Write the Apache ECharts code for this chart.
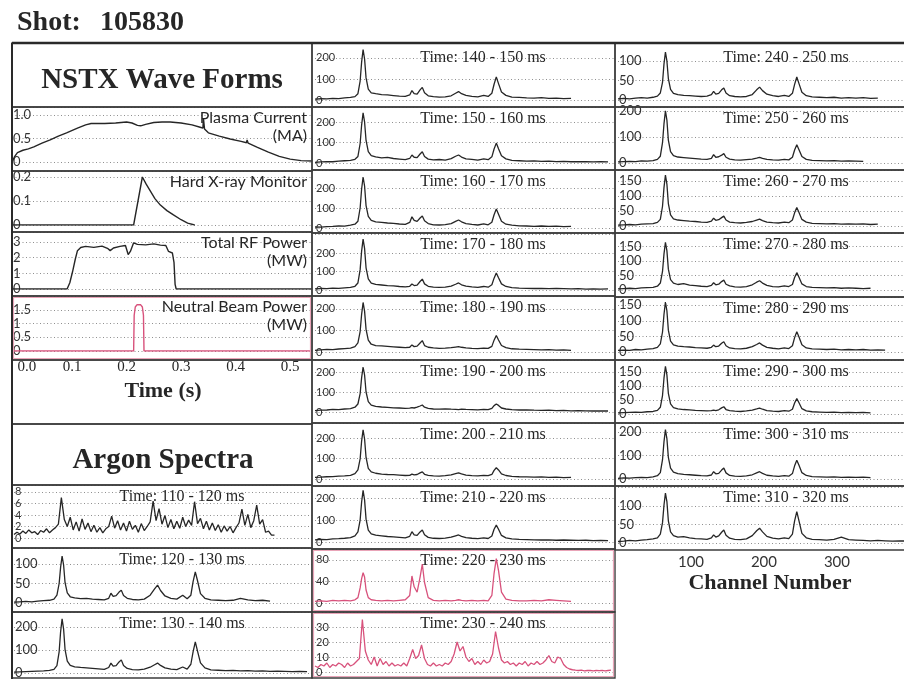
<!DOCTYPE html>
<html>
<head>
<meta charset="utf-8">
<script src="https://cdn.jsdelivr.net/npm/echarts@6/dist/echarts.min.js"></script>
<style>
html,body{margin:0;padding:0;background:#fff}
#chart{width:904px;height:681px}
</style>
</head>
<body>
<div id="chart"></div>
<script>
// ---- Channel grids for the argon spectra ----
const CH = [0,8,16,24,32,40,48,54,58,61,
  63,65,67,69,72,76,82,90,98,106,
  114,122,128,131,134,138,142,145,148,153,
  160,168,176,184,190,194,198,204,212,220,
  228,234,239,242,245,248,252,258,266,276,
  286,296,306,316,326,336,346,356,366,376,
  386,396];
const CH4 = [0,4,8,12,16,20,24,28,32,36,
  40,44,48,52,56,60,64,68,72,76,
  80,84,88,92,96,100,104,108,112,116,
  120,124,128,132,136,140,144,148,152,156,
  160,164,168,172,176,180,184,188,192,196,
  200,204,208,212,216,220,224,228,232,236,
  240,244,248,252,256,260,264,268,272,276,
  280,284,288,292,296,300,304,308,312,316,
  320,324,328,332,336,340,344,348,352,356,
  360,364,368,372,376,380,384,388,392,396,
  400];

// ---- NSTX waveforms: [time (s), value] ----
const plasmaCurrent = [[-0.009,0.02],[-0.005,0.12],[0,0.2],[0.01,0.25],[0.02,0.28],[0.03,0.32],[0.045,0.4],[0.06,0.47],[0.075,0.55],[0.09,0.62],[0.11,0.72],[0.125,0.79],[0.135,0.82],[0.16,0.82],[0.18,0.83],[0.2,0.85],[0.21,0.83],[0.22,0.78],[0.226,0.77],[0.235,0.8],[0.25,0.84],[0.265,0.85],[0.28,0.85],[0.3,0.83],[0.32,0.79],[0.335,0.74],[0.34,0.72],[0.341,0.93],[0.343,0.7],[0.35,0.62],[0.37,0.55],[0.39,0.49],[0.41,0.44],[0.42,0.41],[0.421,0.47],[0.423,0.4],[0.44,0.31],[0.46,0.21],[0.48,0.12],[0.5,0.06],[0.52,0.03],[0.54,0.02]];
const hardXray = [[-0.009,0],[0.213,0],[0.229,0.2],[0.236,0.17],[0.244,0.14],[0.252,0.11],[0.262,0.083],[0.274,0.06],[0.286,0.042],[0.3,0.022],[0.312,0.008],[0.325,0]];
const rfPower = [[-0.009,0],[0.091,0],[0.096,0.4],[0.101,1.1],[0.106,1.9],[0.11,2.45],[0.116,2.65],[0.125,2.72],[0.14,2.66],[0.155,2.74],[0.165,2.6],[0.17,2.45],[0.176,2.62],[0.188,2.72],[0.198,2.78],[0.203,2.2],[0.207,2.4],[0.213,2.95],[0.22,2.85],[0.235,2.82],[0.25,2.88],[0.262,2.8],[0.272,2.78],[0.277,2.4],[0.284,2.3],[0.287,1.7],[0.289,0.3],[0.291,0],[0.54,0]];
const nbPower = [[-0.009,0],[0.213,0],[0.214,1.3],[0.216,1.6],[0.219,1.68],[0.226,1.68],[0.229,1.6],[0.231,1.3],[0.232,0],[0.54,0]];
const timeTicks = [0, 0.1, 0.2, 0.3, 0.4, 0.5];

// ---- Argon spectra (counts per channel) ----
const spec110_120 = [0.6,1.0,0.7,1.2,0.8,1.4,0.9,1.1,0.6,1.3,
  1.0,1.6,0.9,1.4,1.8,2.4,7.0,3.2,2.0,3.6,
  1.4,2.8,1.2,3.3,1.5,2.6,1.1,2.2,1.0,1.8,
  0.9,1.6,2.0,3.8,1.7,3.0,1.4,2.6,1.2,2.9,
  1.5,2.2,1.0,2.5,1.3,2.0,2.8,6.4,3.0,5.1,
  2.4,3.9,1.8,3.2,1.6,2.9,1.7,3.6,2.0,3.1,
  2.2,6.3,2.5,3.4,1.6,2.9,1.4,2.6,1.3,2.3,
  1.0,2.1,1.2,2.0,0.9,1.8,2.6,5.0,2.2,4.1,
  1.8,3.0,5.7,2.4,3.2,1.0,1.2,0.5,0.5];
const spec120_130 = [2,3,4,3,5,6,7,10,20,50,
  92,120,98,52,26,16,13,11,12,10,
  9,8,12,25,17,19,28,33,19,12,
  9,8,10,20,36,46,32,18,12,10,
  20,11,20,55,80,57,24,12,8,7,
  6,7,12,8,6,7,5];
const spec130_140 = [4,5,6,7,8,9,11,16,32,92,
  180,235,192,102,52,33,27,24,22,20,
  18,16,24,43,30,32,48,57,33,20,
  15,14,17,25,36,43,33,22,17,15,
  26,17,38,92,135,95,44,22,14,12,
  10,11,9,10,8,9,7,8,7,6,
  7,6];
const spec140_150 = [4,6,5,8,7,10,12,16,30,90,
  180,240,195,105,52,34,30,26,24,21,
  18,17,24,45,30,28,48,60,34,20,
  16,14,15,20,32,40,30,22,17,15,
  22,17,32,75,110,78,38,22,14,12,
  10,9,11,8,9,7,8];
const spec150_160 = [3,5,7,6,9,11,13,18,32,95,
  185,245,200,110,55,36,30,25,27,22,
  19,16,22,39,28,26,44,55,32,19,
  15,17,14,21,33,39,29,20,18,14,
  20,16,30,68,97,70,35,20,13,11,
  9,10,8,9,7,8,6,7,6,5,
  6,5];
const spec160_170 = [5,4,7,8,10,9,14,19,34,100,
  195,255,210,112,58,38,31,28,25,23,
  20,18,28,56,38,33,50,60,36,22,
  16,15,17,22,33,40,31,22,18,15,
  21,16,29,66,95,69,34,19,14,11,
  10,8,10,8,9,7,8];
const spec170_180 = [6,8,7,10,9,12,14,20,38,110,
  210,275,225,120,60,37,30,27,24,22,
  19,17,20,32,24,26,46,59,33,20,
  16,14,16,21,31,38,28,21,17,14,
  19,15,28,64,92,66,33,19,13,10,
  9,8,9,7,8,7,6,7,5,6,
  5,6];
const spec180_190 = [8,10,12,11,14,16,18,25,42,95,
  175,230,190,105,55,36,30,28,26,24,
  22,20,22,33,25,27,42,53,30,22,
  19,17,18,20,23,25,22,19,17,16,
  18,17,26,55,77,56,30,20,15,13,
  12,11,10,11,9,10,8];
const spec190_200 = [7,9,10,13,12,15,17,24,40,92,
  172,225,185,100,52,34,28,25,23,21,
  20,18,19,22,20,24,30,35,24,18,
  15,14,16,14,13,12,14,13,12,11,
  13,12,18,32,40,33,20,15,12,10,
  11,9,8,9,7,8,6,7,6,5,
  6,5];
const spec200_210 = [8,9,11,12,14,15,18,26,45,98,
  185,240,195,105,52,35,28,24,22,21,
  19,17,18,24,20,22,30,35,23,18,
  15,14,16,20,26,30,25,19,16,15,
  18,16,22,42,55,44,25,17,13,11,
  10,9,10,8,9,7,8];
const spec210_220 = [10,12,11,14,15,17,20,28,46,100,
  182,235,192,104,54,37,31,28,25,23,
  21,19,26,47,32,30,46,55,33,21,
  17,16,18,22,28,32,26,20,17,15,
  19,16,27,58,77,58,30,19,14,12,
  11,10,9,10,8,9,8,7,8,6,
  7,6];
const spec220_230 = [3,4,3,5,4,5,4,6,10,28,
  45,56,48,24,10,6,5,4,5,4,
  5,6,14,50,30,20,48,72,38,10,
  5,4,5,4,5,6,5,4,5,4,
  5,4,14,55,82,60,20,7,5,4,
  4,5,4,6,5,4,3];
const spec230_240 = [4,3,5,4,6,3,5,4,6,5,
  3,6,4,5,7,9,35,14,8,5,
  10,4,9,5,7,4,6,4,5,4,
  6,4,9,15,9,11,18,9,5,4,
  6,4,5,4,6,5,7,12,20,14,
  17,10,7,9,5,7,5,8,6,7,
  12,27,16,8,6,7,5,6,4,6,
  5,7,4,6,5,7,5,6,8,11,
  7,6,10,9,5,3,2,1.5,1.2,1,
  1.2,0.8,1,1.1,0.8,1,0.9,1.1,0.8,1,
  1.2];
const spec240_250 = [3,4,3,5,6,5,7,10,18,45,
  92,123,100,55,27,17,14,12,11,10,
  9,10,14,22,15,17,26,31,18,11,
  9,8,9,14,26,33,24,15,11,9,
  12,9,17,40,59,42,20,11,8,7,
  6,7,5,6,5,6,4,5];
const spec250_260 = [4,5,6,5,8,7,9,14,26,78,
  150,200,165,88,44,28,23,21,19,17,
  15,14,18,32,22,24,30,36,22,15,
  12,11,13,15,19,22,18,14,12,11,
  14,12,22,50,70,51,25,14,10,9,
  8,9,7,8,7,6];
const spec260_270 = [3,4,5,4,6,7,8,12,22,66,
  128,170,140,75,37,24,20,18,16,15,
  13,12,16,26,19,21,28,33,20,13,
  11,10,12,15,20,23,18,13,11,10,
  13,11,20,44,62,45,22,13,9,8,
  7,8,6,7,6,7,5,6];
const spec270_280 = [4,5,6,5,7,8,9,13,24,64,
  124,165,136,72,36,24,19,22,17,15,
  13,12,16,25,18,20,29,34,20,14,
  11,10,12,18,27,32,24,16,12,11,
  14,12,19,43,60,44,21,12,9,8,
  7,8,6,7,6,5,6];
const spec280_290 = [5,6,5,8,7,9,11,15,26,64,
  120,160,132,70,35,23,19,17,16,14,
  13,12,15,22,17,19,28,33,20,13,
  11,10,12,17,24,29,22,15,12,10,
  13,11,20,46,65,48,23,13,10,9,
  8,9,7,8,7,8,6,7,6];
const spec290_300 = [4,5,6,7,6,8,9,13,24,66,
  128,170,140,74,36,23,18,16,15,13,
  12,11,12,14,12,15,22,26,16,12,
  10,9,11,14,18,21,17,12,10,9,
  12,10,17,39,55,40,19,11,8,7,
  6,7,5,6,5,6,4];
const spec300_310 = [3,5,4,6,7,6,9,14,27,82,
  158,210,172,92,46,29,23,20,18,16,
  14,13,17,31,22,24,38,47,26,15,
  12,11,13,18,26,31,24,16,13,11,
  14,12,23,56,80,58,27,15,10,9,
  8,9,7,8,7,8,6];
const spec310_320 = [4,5,7,6,8,9,11,14,24,55,
  102,135,112,60,30,20,16,17,14,12,
  11,10,14,22,16,19,29,35,21,13,
  10,9,11,20,33,40,30,18,13,11,
  14,12,24,60,85,60,26,14,10,9,
  8,10,16,9,8,7,6,7,6,5,
  6,5];
const channelTicks = [100, 200, 300];

// ---- Layout ----
const INK = '#262626';
const PINK = '#d8527c';
const PINK_FRAME = '#e9a4b8';
const FRAME = '#3d3d3d';
const SERIF = '"Liberation Serif", "DejaVu Serif", serif';
const SANS = 'Lato, "Liberation Sans", sans-serif';
const PX_PER_CH = 0.74;
const COLS = {
  L: {x0: 12, x1: 312, plot: 14, tick: 13},
  M: {x0: 312, x1: 615, plot: 315, tick: 11},
  R: {x0: 615, x1: 908, plot: 618, tick: 13}
};
// time axis of the waveform panels: 545.45 px per second, 0 s at x = 17.45
const T_MIN = -0.01, T_MAX = 0.54, T_LEFT = 12, T_WIDTH = 300;

const wavePanels = [
  {data: plasmaCurrent, top: 107, bottom: 171, base: 162, yMax: 1.17, interval: 0.5, dec: true, label: ['Plasma Current', '(MA)']},
  {data: hardXray, top: 171, bottom: 232, base: 225, yMax: 0.225, interval: 0.1, dec: true, label: ['Hard X-ray Monitor']},
  {data: rfPower, top: 232, bottom: 296, base: 289, yMax: 3.64, interval: 1, label: ['Total RF Power', '(MW)']},
  {data: nbPower, top: 296, bottom: 360, base: 351, yMax: 2.0, interval: 0.5, pink: true, label: ['Neutral Beam Power', '(MW)']}
];

const specPanels = [
  {t: '110 - 120', data: spec110_120, chan: CH4, col: 'L', top: 485, bottom: 548, base: 538, yMax: 9.2, interval: 2, fs: 11},
  {t: '120 - 130', data: spec120_130, col: 'L', top: 548, bottom: 612, base: 603, yMax: 141, interval: 50},
  {t: '130 - 140', data: spec130_140, col: 'L', top: 612, bottom: 678, base: 673, yMax: 265, interval: 100},
  {t: '140 - 150', data: spec140_150, col: 'M', top: 43, bottom: 107, base: 100, yMax: 271, interval: 100, first: true},
  {t: '150 - 160', data: spec150_160, col: 'M', top: 107, bottom: 170, base: 163, yMax: 273, interval: 100},
  {t: '160 - 170', data: spec160_170, col: 'M', top: 170, bottom: 233, base: 228, yMax: 290, interval: 100},
  {t: '170 - 180', data: spec170_180, col: 'M', top: 233, bottom: 296, base: 290, yMax: 308, interval: 100, labelMax: 200},
  {t: '180 - 190', data: spec180_190, col: 'M', top: 296, bottom: 360, base: 352, yMax: 260, interval: 100},
  {t: '190 - 200', data: spec190_200, col: 'M', top: 360, bottom: 423, base: 412, yMax: 260, interval: 100},
  {t: '200 - 210', data: spec200_210, col: 'M', top: 423, bottom: 486, base: 479, yMax: 273, interval: 100},
  {t: '210 - 220', data: spec210_220, col: 'M', top: 486, bottom: 549, base: 542, yMax: 255, interval: 100},
  {t: '220 - 230', data: spec220_230, col: 'M', top: 549, bottom: 612, base: 603, yMax: 100, interval: 40, pink: true},
  {t: '230 - 240', data: spec230_240, chan: CH4, col: 'M', top: 612, bottom: 678, base: 672, yMax: 40, interval: 10, pink: true},
  {t: '240 - 250', data: spec240_250, col: 'R', top: 43, bottom: 107, base: 100, yMax: 146, interval: 50, first: true},
  {t: '250 - 260', data: spec250_260, col: 'R', top: 107, bottom: 170, base: 163, yMax: 215, interval: 100},
  {t: '260 - 270', data: spec260_270, col: 'R', top: 170, bottom: 233, base: 226, yMax: 187, interval: 50},
  {t: '270 - 280', data: spec270_280, col: 'R', top: 233, bottom: 297, base: 290, yMax: 197, interval: 50},
  {t: '280 - 290', data: spec280_290, col: 'R', top: 297, bottom: 360, base: 352, yMax: 176, interval: 50},
  {t: '290 - 300', data: spec290_300, col: 'R', top: 360, bottom: 423, base: 414, yMax: 193, interval: 50},
  {t: '300 - 310', data: spec300_310, col: 'R', top: 423, bottom: 486, base: 479, yMax: 238, interval: 100},
  {t: '310 - 320', data: spec310_320, col: 'R', top: 486, bottom: 550, base: 543, yMax: 154, interval: 50, labelMax: 100, channelAxis: true}
];

const grids = [], xAxes = [], yAxes = [], series = [], graphics = [];

function frame(x, y, w, h, color, lw) {
  graphics.push({type: 'rect', z: 10, silent: true, shape: {x: x, y: y, width: w, height: h},
    style: {fill: 'none', stroke: color, lineWidth: lw}});
}
function text(str, x, y, font, align, color) {
  graphics.push({type: 'text', z: 12, silent: true, style: {text: str, x: x, y: y, font: font,
    fill: color || INK, textAlign: align || 'left', textVerticalAlign: 'middle', align: align || 'left', verticalAlign: 'middle'}});
}
function yAxisFor(p, fs, fmt) {
  const top = p.labelMax !== undefined ? p.labelMax : Infinity;
  const f = fmt || (v => String(v));
  return {type: 'value', gridIndex: grids.length - 1, min: 0, max: p.yMax, interval: p.interval,
    axisLine: {show: false}, axisTick: {show: false},
    axisLabel: {inside: true, margin: 1, fontSize: fs, color: '#333', fontFamily: SANS,
      showMaxLabel: false, formatter: v => (v > top + 1e-9 ? '' : f(v))},
    splitLine: {show: true, lineStyle: {color: '#8f8f8f', width: 1, type: [1, 2.5]}}};
}

// waveform panels (left column)
wavePanels.forEach(p => {
  grids.push({left: T_LEFT, top: p.top, width: T_WIDTH, height: p.base - p.top, containLabel: false});
  const gi = grids.length - 1;
  xAxes.push({type: 'value', gridIndex: gi, min: T_MIN, max: T_MAX, show: false});
  yAxes.push(yAxisFor(p, 13, p.dec ? (v => v === 0 ? '0' : v.toFixed(1)) : undefined));
  series.push({type: 'line', xAxisIndex: gi, yAxisIndex: gi, data: p.data, showSymbol: false,
    lineStyle: {color: p.pink ? PINK : INK, width: 1.4}, animation: false});
  frame(12, p.top, 300, p.bottom - p.top, FRAME, 1.4);
  if (p.pink) frame(13.5, p.top + 1.5, 297, p.bottom - p.top - 3, PINK_FRAME, 1.2);
  text(p.label[0], 307, p.top + 11, '16px ' + SANS, 'right');
  if (p.label[1]) text(p.label[1], 307, p.top + 29, '16px ' + SANS, 'right');
});

// time axis labels under the waveforms
grids.push({left: T_LEFT + (0 - T_MIN) / (T_MAX - T_MIN) * T_WIDTH, top: 356, width: 0.53 / (T_MAX - T_MIN) * T_WIDTH, height: 2});
(function () {
  const gi = grids.length - 1;
  xAxes.push({type: 'value', gridIndex: gi, min: timeTicks[0], max: 0.53, interval: timeTicks[1] - timeTicks[0],
    axisLine: {show: false}, axisTick: {show: false}, splitLine: {show: false},
    axisLabel: {margin: 2, fontSize: 15, color: INK, fontFamily: SERIF, showMaxLabel: false,
      alignMinLabel: 'left', formatter: v => v.toFixed(1)}});
  yAxes.push({type: 'value', gridIndex: gi, show: false, min: 0, max: 1});
  series.push({type: 'line', xAxisIndex: gi, yAxisIndex: gi, data: [], showSymbol: false});
})();

// spectra panels
specPanels.forEach(p => {
  const c = COLS[p.col];
  const width = c.x1 - c.plot;
  grids.push({left: c.plot, top: p.top, width: width, height: p.base - p.top});
  const gi = grids.length - 1;
  const xa = {type: 'value', gridIndex: gi, min: 0, max: width / PX_PER_CH, show: false};
  if (p.channelAxis) {
    Object.assign(xa, {show: true, interval: channelTicks[1] - channelTicks[0],
      axisLine: {show: false}, axisTick: {show: false}, splitLine: {show: false},
      axisLabel: {margin: 12, fontSize: 15, color: '#333', fontFamily: SANS, showMinLabel: false, showMaxLabel: false,
        formatter: v => channelTicks.indexOf(v) >= 0 ? String(v) : ''}});
  }
  xAxes.push(xa);
  yAxes.push(yAxisFor(p, p.fs || c.tick));
  const chan = p.chan || CH;
  series.push({type: 'line', xAxisIndex: gi, yAxisIndex: gi,
    data: p.data.map((v, i) => [chan[i], v]), showSymbol: false,
    lineStyle: {color: p.pink ? PINK : INK, width: 1.3}, animation: false});
  frame(c.x0, p.top, c.x1 - c.x0, p.bottom - p.top, FRAME, 1.4);
  if (p.pink) frame(c.x0 + 1.5, p.top + 1.5, c.x1 - c.x0 - 3, p.bottom - p.top - 3, PINK_FRAME, 1.2);
  text('Time: ' + p.t + ' ms', c.plot + 168, p.top + (p.first ? 15 : 12), '16px ' + SERIF, 'center');
});

// header boxes and captions
frame(12, 43, 300, 64, FRAME, 1.4);
frame(12, 360, 300, 64, FRAME, 1.4);
frame(12, 424, 300, 61, FRAME, 1.4);
graphics.push({type: 'line', z: 11, silent: true, shape: {x1: 12, y1: 43, x2: 904, y2: 43}, style: {stroke: '#2a2a2a', lineWidth: 2.6}});
graphics.push({type: 'line', z: 11, silent: true, shape: {x1: 12, y1: 43, x2: 12, y2: 679}, style: {stroke: '#2a2a2a', lineWidth: 2}});
text('Shot:', 17, 23, 'bold 28px ' + SERIF, 'left');
text('105830', 100, 23, 'bold 28px ' + SERIF, 'left');
text('NSTX Wave Forms', 162, 81, 'bold 29px ' + SERIF, 'center');
text('Time (s)', 163, 391, 'bold 22px ' + SERIF, 'center');
text('Argon Spectra', 163, 461, 'bold 29px ' + SERIF, 'center');
text('Channel Number', 770, 583, 'bold 22px ' + SERIF, 'center');

const chart = echarts.init(document.getElementById('chart'), null, {renderer: 'canvas'});
chart.setOption({
  backgroundColor: '#ffffff',
  animation: false,
  grid: grids,
  xAxis: xAxes,
  yAxis: yAxes,
  series: series,
  graphic: {elements: graphics}
});
</script>
</body>
</html>
